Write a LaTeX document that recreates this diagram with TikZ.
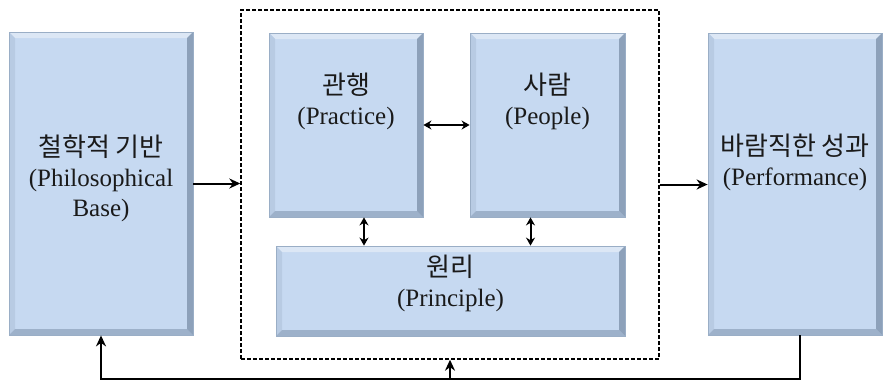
\documentclass[tikz,border=0pt]{standalone}
\usepackage{fontspec}
\setmainfont{Liberation Serif}
\newfontfamily\kr{Noto Sans CJK KR}
\usetikzlibrary{arrows.meta}
\definecolor{boxc}{HTML}{C6D9F1}
\definecolor{bordc}{HTML}{9AAEC6}
\definecolor{bevtop}{HTML}{DCE7F5}
\definecolor{bevleft}{HTML}{B8CBE3}
\definecolor{bevbot}{HTML}{9DB1CA}
\definecolor{bevright}{HTML}{8DA1BA}
\definecolor{txtc}{HTML}{1A1A1A}
\tikzset{
  bevbox/.style={draw=bordc, line width=0.8pt, fill=boxc, inner sep=0pt,
    path picture={
      \fill[bevtop] (path picture bounding box.north west) -- (path picture bounding box.north east)
        -- ([xshift=-6pt,yshift=-6pt]path picture bounding box.north east)
        -- ([xshift=6pt,yshift=-6pt]path picture bounding box.north west) -- cycle;
      \fill[bevleft] (path picture bounding box.north west) -- (path picture bounding box.south west)
        -- ([xshift=6pt,yshift=6pt]path picture bounding box.south west)
        -- ([xshift=6pt,yshift=-6pt]path picture bounding box.north west) -- cycle;
      \fill[bevbot] (path picture bounding box.south west) -- (path picture bounding box.south east)
        -- ([xshift=-6pt,yshift=6pt]path picture bounding box.south east)
        -- ([xshift=6pt,yshift=6pt]path picture bounding box.south west) -- cycle;
      \fill[bevright] (path picture bounding box.north east) -- (path picture bounding box.south east)
        -- ([xshift=-6pt,yshift=6pt]path picture bounding box.south east)
        -- ([xshift=-6pt,yshift=-6pt]path picture bounding box.north east) -- cycle;
    }},
  lbl/.style={align=center, text=txtc, font=\fontsize{25}{30}\selectfont, inner sep=0pt},
  krf/.style={},
  conn/.style={line width=2pt, -{Stealth[length=11pt,width=10pt]}},
  biconn/.style={line width=2pt, {Stealth[length=8pt,width=9pt]}-{Stealth[length=8pt,width=9pt]}},
  dashbox/.style={draw, line width=1.4pt, dash pattern=on 4pt off 2pt, inner sep=0pt}
}
\newcommand\krtxt[1]{{\kr\fontsize{26}{30}\selectfont #1}}
\begin{document}
\begin{tikzpicture}[x=1pt,y=-1pt]
\useasboundingbox (0,0) rectangle (883,381);
% boxes
\node[bevbox, minimum width=184pt, minimum height=303pt] (phil) at (101,183.5) {};
\node[dashbox, minimum width=418pt, minimum height=349pt] (dash) at (450,184.5) {};
\node[bevbox, minimum width=154pt, minimum height=184pt] (prac) at (346,125) {};
\node[bevbox, minimum width=155pt, minimum height=184pt] (peop) at (547.5,125) {};
\node[bevbox, minimum width=349pt, minimum height=90pt] (prin) at (450.5,291) {};
\node[bevbox, minimum width=174pt, minimum height=302pt] (perf) at (795,184) {};
% texts
\node[lbl] (philt) at (101,178) {\krtxt{철학적 기반}\\(Philosophical\\Base)};
\node[lbl] (pract) at (346,101) {\krtxt{관행}\\(Practice)};
\node[lbl] (peopt) at (547.5,101) {\krtxt{사람}\\(People)};
\node[lbl] (print) at (450.5,283) {\krtxt{원리}\\(Principle)};
\node[lbl] (perft) at (795,162) {\krtxt{바람직한 성과}\\(Performance)};
% connectors
\draw[conn] (phil.east) -- (phil.east -| dash.west);
\draw[conn] (dash.east) -- (dash.east -| perf.west);
\draw[biconn] (prac.east) -- (prac.east -| peop.west);
\draw[biconn] ([xshift=18pt]prac.south) -- ([xshift=18pt]prac.south |- prin.north);
\draw[biconn] ([xshift=-17pt]peop.south) -- ([xshift=-17pt]peop.south |- prin.north);
\coordinate (fb) at (450,379);
\draw[line width=2pt, -{Stealth[length=11pt,width=10pt]}] ([xshift=5pt]perf.south) |- (fb) -| (phil.south);
\draw[conn] (fb) -- (dash.south);
\end{tikzpicture}
\end{document}
